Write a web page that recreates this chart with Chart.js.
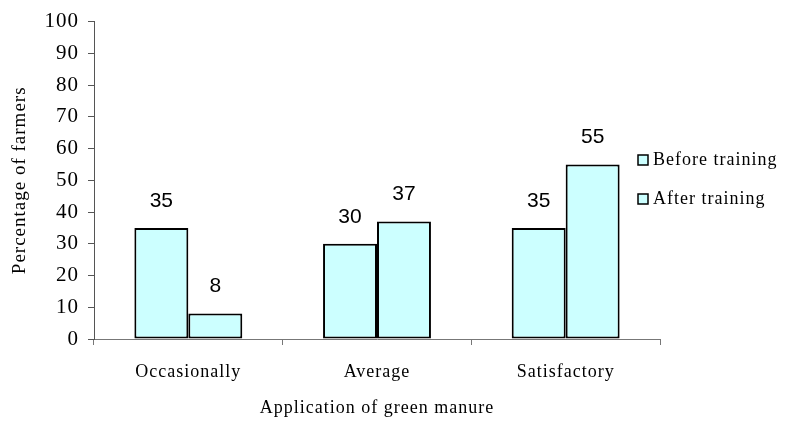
<!DOCTYPE html>
<html>
<head>
<meta charset="utf-8">
<script src="https://cdn.jsdelivr.net/npm/chart.js@4"></script>
<style>
  html, body { margin: 0; background: #fff; }
  #wrap { width: 787px; height: 426px; }
</style>
</head>
<body>
<div id="wrap"><canvas id="chart"></canvas></div>
<script>
// data
const categories = ['Occasionally', 'Average', 'Satisfactory'];
const beforeTraining = [35, 30, 35];
const afterTraining = [8, 37, 55];
const yMin = 0, yMax = 100, yStep = 10;

const barFill = '#CCFFFF';
const serif = '"Liberation Serif", "Times New Roman", serif';

// letter spacing for the serif texts (the original is spaced out a bit)
const spacing = {
    id: 'spacing',
    beforeUpdate(chart) { chart.ctx.letterSpacing = '1px'; },
    beforeDraw(chart) { chart.ctx.letterSpacing = '1px'; }
};

// value labels above bars
const valueLabels = {
    id: 'valueLabels',
    afterDatasetsDraw(chart) {
        const ctx = chart.ctx;
        ctx.save();
        ctx.letterSpacing = '0px';
        ctx.font = '21px "Liberation Sans", Arial, sans-serif';
        ctx.fillStyle = '#000';
        ctx.textAlign = 'center';
        ctx.textBaseline = 'middle';
        chart.data.datasets.forEach((ds, i) => {
            chart.getDatasetMeta(i).data.forEach((bar, j) => {
                ctx.fillText(ds.data[j], bar.x, bar.y - 27);
            });
        });
        ctx.restore();
    }
};

// legend on the right, next to the end of the x axis
const sideLegend = {
    id: 'sideLegend',
    afterDraw(chart) {
        const ctx = chart.ctx;
        const x = chart.chartArea.right - 22;
        ctx.save();
        ctx.font = '18px ' + serif;
        ctx.letterSpacing = '1px';
        ctx.textBaseline = 'middle';
        chart.data.datasets.forEach((ds, i) => {
            const y = 160 + i * 39;
            ctx.fillStyle = ds.backgroundColor;
            ctx.fillRect(x, y - 5, 10, 10);
            ctx.strokeStyle = '#000';
            ctx.lineWidth = 1.5;
            ctx.strokeRect(x, y - 5, 10, 10);
            ctx.fillStyle = '#000';
            ctx.fillText(ds.label, x + 15, y);
        });
        ctx.restore();
    }
};

const ctx = document.getElementById('chart').getContext('2d');
const chart = new Chart(ctx, {
    type: 'bar',
    data: {
        labels: categories,
        datasets: [{
            label: 'Before training',
            data: beforeTraining,
            backgroundColor: barFill,
            borderColor: '#000',
            borderWidth: 2,
            borderSkipped: false
        }, {
            label: 'After training',
            data: afterTraining,
            backgroundColor: barFill,
            borderColor: '#000',
            borderWidth: 2,
            borderSkipped: false
        }]
    },
    options: {
        responsive: true,
        maintainAspectRatio: false,
        animation: false,
        layout: { padding: { top: 18, right: 127, left: 0, bottom: 0 } },
        datasets: {
            bar: { categoryPercentage: 0.572, barPercentage: 1 }
        },
        scales: {
            x: {
                afterFit(s) { s.height = 87; },
                grid: { drawOnChartArea: false, color: '#777', tickLength: 6 },
                border: { color: '#777', width: 1 },
                ticks: { color: '#000', padding: 16, font: { family: serif, size: 18 } },
                title: {
                    display: true,
                    text: 'Application of green manure',
                    color: '#000',
                    font: { family: serif, size: 18 },
                    padding: { top: 0, bottom: 7 }
                }
            },
            y: {
                min: yMin,
                max: yMax,
                afterFit(s) { s.width = 94; },
                grid: { drawOnChartArea: false, color: '#555', tickLength: 6 },
                border: { color: '#555', width: 1 },
                ticks: { stepSize: yStep, color: '#000', padding: 9, font: { family: serif, size: 21 } },
                title: {
                    display: true,
                    text: 'Percentage of farmers',
                    color: '#000',
                    font: { family: serif, size: 19 },
                    padding: { top: 9, bottom: 0 }
                }
            }
        },
        plugins: {
            legend: { display: false },
            tooltip: { enabled: false }
        }
    },
    plugins: [spacing, valueLabels, sideLegend]
});
</script>
</body>
</html>
